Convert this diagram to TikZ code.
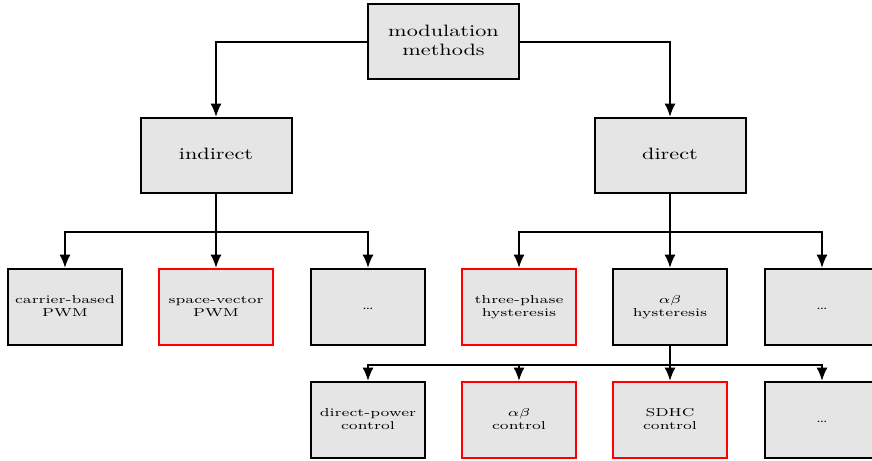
\documentclass[tikz,border=0pt]{standalone}
\usepackage{graphicx}
\usetikzlibrary{arrows.meta}
\newcommand{\vsq}[1]{\scalebox{1}[0.74]{\begin{tabular}{@{}c@{}}#1\end{tabular}}}
\begin{document}
\begin{tikzpicture}[x=0.45pt,y=-0.45pt,
  box/.style={draw=black, fill=black!10, line width=0.9pt, inner sep=0pt},
  bigbox/.style={box, minimum width=67.95pt, minimum height=33.75pt, font=\normalsize},
  smallbox/.style={box, minimum width=51.3pt, minimum height=34.2pt, font=\scriptsize},
  hl/.style={draw=red},
  conn/.style={line width=0.9pt, -{Latex[length=6pt,width=5pt]}}]
\useasboundingbox (0,0) rectangle (872,461);
% level 0 and 1
\node[bigbox] (mm)  at (443.5,42)  {\vsq{modulation\\methods}};
\node[bigbox] (ind) at (216,155.5) {\vsq{indirect}};
\node[bigbox] (dir) at (670,155.5) {\vsq{direct}};
% level 2
\node[smallbox]    (c1) at (65,307)    {\vsq{carrier-based\\PWM}};
\node[smallbox,hl] (c2) at (216,307)   {\vsq{space-vector\\PWM}};
\node[smallbox]    (c3) at (368,307)   {\vsq{\dots}};
\node[smallbox,hl] (d1) at (519,307)   {\vsq{three-phase\\hysteresis}};
\node[smallbox]    (d2) at (670,307)   {\vsq{$\alpha\beta$\\hysteresis}};
\node[smallbox]    (d3) at (822,307)   {\vsq{\dots}};
% level 3
\node[smallbox]    (e1) at (368,420)   {\vsq{direct-power\\control}};
\node[smallbox,hl] (e2) at (519,420)   {\vsq{$\alpha\beta$\\control}};
\node[smallbox,hl] (e3) at (670,420)   {\vsq{SDHC\\control}};
\node[smallbox]    (e4) at (822,420)   {\vsq{\dots}};
% connectors
\draw[conn] (mm.west) -| (ind.north);
\draw[conn] (mm.east) -| (dir.north);
\draw[conn] (ind.south) -- (c2.north);
\draw[conn] (ind.south) -- ++(0,38) -| (c1.north);
\draw[conn] (ind.south) -- ++(0,38) -| (c3.north);
\draw[conn] (dir.south) -- (d2.north);
\draw[conn] (dir.south) -- ++(0,38) -| (d1.north);
\draw[conn] (dir.south) -- ++(0,38) -| (d3.north);
\draw[conn] (d2.south) -- (e3.north);
\draw[conn] (d2.south) -- ++(0,19) -| (e1.north);
\draw[conn] (d2.south) -- ++(0,19) -| (e2.north);
\draw[conn] (d2.south) -- ++(0,19) -| (e4.north);
\end{tikzpicture}
\end{document}
